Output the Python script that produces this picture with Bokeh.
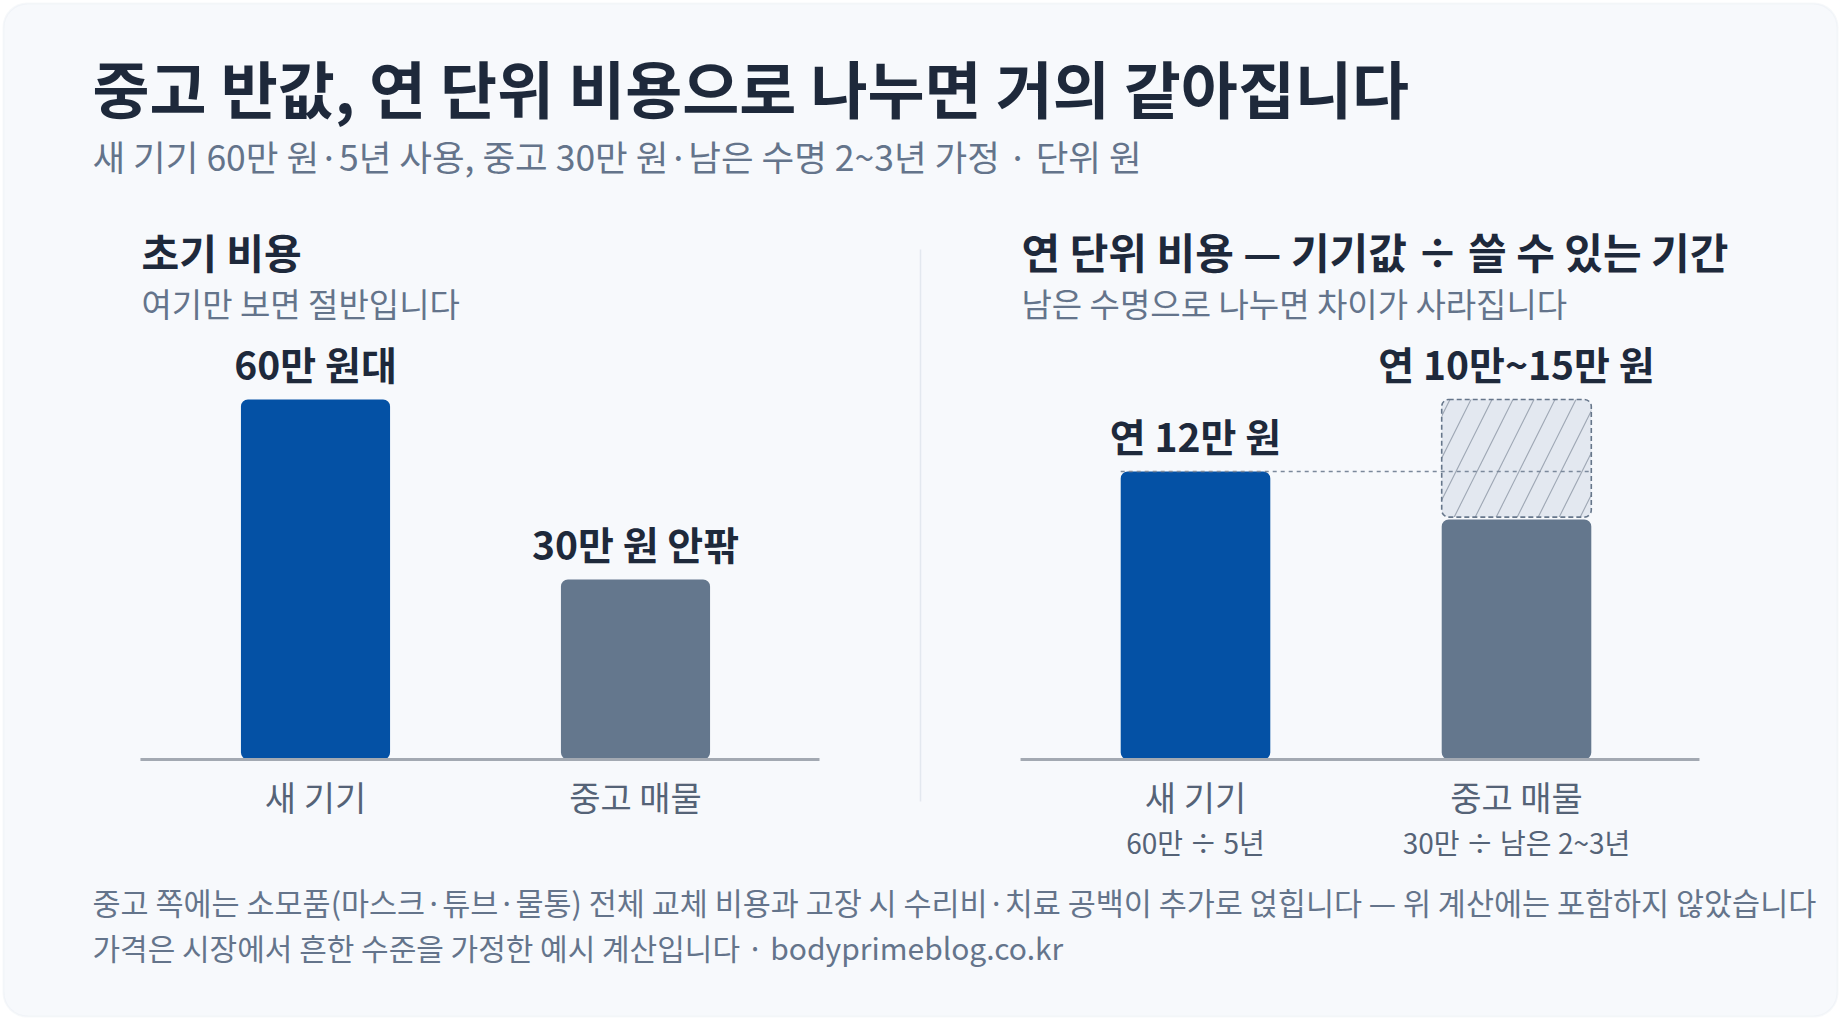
from bokeh.plotting import figure
from bokeh.models import Range1d, BoxAnnotation, ColumnDataSource
from bokeh.core.properties import value
from bokeh.embed import file_html
from bokeh.resources import INLINE

# 값 (단위: 만 원)
categories = ["새 기기", "중고 매물"]
upfront = [60, 30]
upfront_labels = ["60만 원대", "30만 원 안팎"]
annual_low = [12, 10]
annual_high = [12, 15]
annual_labels = ["연 12만 원", "연 10만~15만 원"]
annual_formulas = ["60만 ÷ 5년", "30만 ÷ 남은 2~3년"]

TITLE = "중고 반값, 연 단위 비용으로 나누면 거의 같아집니다"
SUBTITLE = "새 기기 60만 원·5년 사용, 중고 30만 원·남은 수명 2~3년 가정 · 단위 원"
LEFT_TITLE = "초기 비용"
LEFT_SUB = "여기만 보면 절반입니다"
RIGHT_TITLE = "연 단위 비용 — 기기값 ÷ 쓸 수 있는 기간"
RIGHT_SUB = "남은 수명으로 나누면 차이가 사라집니다"
NOTE_1 = "중고 쪽에는 소모품(마스크·튜브·물통) 전체 교체 비용과 고장 시 수리비·치료 공백이 추가로 얹힙니다 — 위 계산에는 포함하지 않았습니다"
NOTE_2 = "가격은 시장에서 흔한 수준을 가정한 예시 계산입니다 · bodyprimeblog.co.kr"

FONT = "Noto Sans CJK KR"
DARK = "#1e293b"
MUTED = "#64748b"
AXIS_TXT = "#556377"
BLUE = "#0451a5"
SLATE = "#64778d"

W, H = 1840, 1020
p = figure(width=W, height=H, x_range=Range1d(0, W), y_range=Range1d(H, 0),
           x_axis_type=None, y_axis_type=None, output_backend="svg",
           toolbar_location=None, min_border=0, outline_line_color=None,
           background_fill_color="white", border_fill_color="white")
p.grid.visible = False


# 패널 좌표계: 막대 인덱스(0, 1) / 값(만 원)
def panel_x(px0, step):
    start = -px0 / step
    return Range1d(start, start + W / step)


def panel_y(base, per_unit):
    start = -(H - base) / per_unit
    return Range1d(start, start + H / per_unit)


BASE = 759
p.extra_x_ranges = {"lx": panel_x(315, 320), "rx": panel_x(1195, 321)}
p.extra_y_ranges = {"ly": panel_y(BASE, 6.0), "ry": panel_y(BASE, 24.0)}

card = BoxAnnotation(left=3, right=1837, top=3, bottom=1016, fill_color="#f7f9fc",
                     fill_alpha=1, line_color="#e2e7ee", line_width=2,
                     border_radius=24, level="underlay")
p.add_layout(card)


def label(x, y, s, size, color, bold=False, align="left"):
    p.text(x=[x], y=[y], text=[s], text_font=value(FONT), text_font_size=f"{size}px",
           text_font_style="bold" if bold else "normal", text_color=color,
           text_align=align, text_baseline="middle")


label(92, 86, TITLE, 62, DARK, bold=True)
label(92, 155, SUBTITLE, 35.5, MUTED)
label(141, 250, LEFT_TITLE, 41, DARK, bold=True)
label(141, 302, LEFT_SUB, 33, MUTED)
label(1021, 250, RIGHT_TITLE, 42, DARK, bold=True)
label(1021, 302, RIGHT_SUB, 33, MUTED)
label(92, 901, NOTE_1, 30.5, MUTED)
label(92, 946, NOTE_2, 30, MUTED)

p.segment(x0=[920], y0=[249], x1=[920], y1=[801], line_color="#e3e8ef", line_width=1.5)

BAR_W = 0.466
colors = [BLUE, SLATE]
idx = list(range(len(categories)))

# 왼쪽: 초기 비용
left = ColumnDataSource(dict(x=idx, top=upfront, lab=upfront_labels, cat=categories, c=colors))
p.vbar(x="x", top="top", bottom=0, width=BAR_W, fill_color="c", line_color=None,
       border_radius=7, source=left, x_range_name="lx", y_range_name="ly")
p.segment(x0=[-0.547], y0=[0], x1=[1.575], y1=[0], line_color="#a3a9b2", line_width=3,
          x_range_name="lx", y_range_name="ly")
p.text(x="x", y="top", text="lab", source=left, y_offset=-37, text_font=value(FONT),
       text_font_size="39px", text_font_style="bold", text_color=DARK,
       text_align="center", text_baseline="middle", x_range_name="lx", y_range_name="ly")
p.text(x="x", y=0, text="cat", source=left, y_offset=37, text_font=value(FONT),
       text_font_size="34px", text_color=AXIS_TXT, text_align="center",
       text_baseline="middle", x_range_name="lx", y_range_name="ly")

# 오른쪽: 연 단위 비용
right = ColumnDataSource(dict(x=idx, low=annual_low, high=annual_high, lab=annual_labels,
                              cat=categories, f=annual_formulas, c=colors))
p.vbar(x="x", top="low", bottom=0, width=BAR_W, fill_color="c", line_color=None,
       border_radius=7, source=right, x_range_name="rx", y_range_name="ry")
rng = [i for i in idx if annual_high[i] > annual_low[i]]
p.vbar(x=rng, bottom=[annual_low[i] + 0.1 for i in rng], top=[annual_high[i] for i in rng],
       width=BAR_W, fill_color="#e3e8f0", line_color="#66768a", line_width=1.6,
       line_dash="5 3", hatch_pattern="/", hatch_color="#a0a9b6", hatch_scale=42,
       hatch_weight=1.2, border_radius=7, x_range_name="rx", y_range_name="ry")
p.segment(x0=[0 - BAR_W / 2], y0=[annual_low[0]], x1=[1 + BAR_W / 2], y1=[annual_low[0]],
          line_color="#7b899b", line_width=1.6, line_dash="4 4",
          x_range_name="rx", y_range_name="ry")
p.segment(x0=[-0.545], y0=[0], x1=[1.570], y1=[0], line_color="#a3a9b2", line_width=3,
          x_range_name="rx", y_range_name="ry")
p.text(x="x", y="high", text="lab", source=right, y_offset=-37, text_font=value(FONT),
       text_font_size="39px", text_font_style="bold", text_color=DARK,
       text_align="center", text_baseline="middle", x_range_name="rx", y_range_name="ry")
p.text(x="x", y=0, text="cat", source=right, y_offset=37, text_font=value(FONT),
       text_font_size="34px", text_color=AXIS_TXT, text_align="center",
       text_baseline="middle", x_range_name="rx", y_range_name="ry")
p.text(x="x", y=0, text="f", source=right, y_offset=82, text_font=value(FONT),
       text_font_size="28px", text_color=AXIS_TXT, text_align="center",
       text_baseline="middle", x_range_name="rx", y_range_name="ry")

open("out.html", "w").write(file_html(p, INLINE))
